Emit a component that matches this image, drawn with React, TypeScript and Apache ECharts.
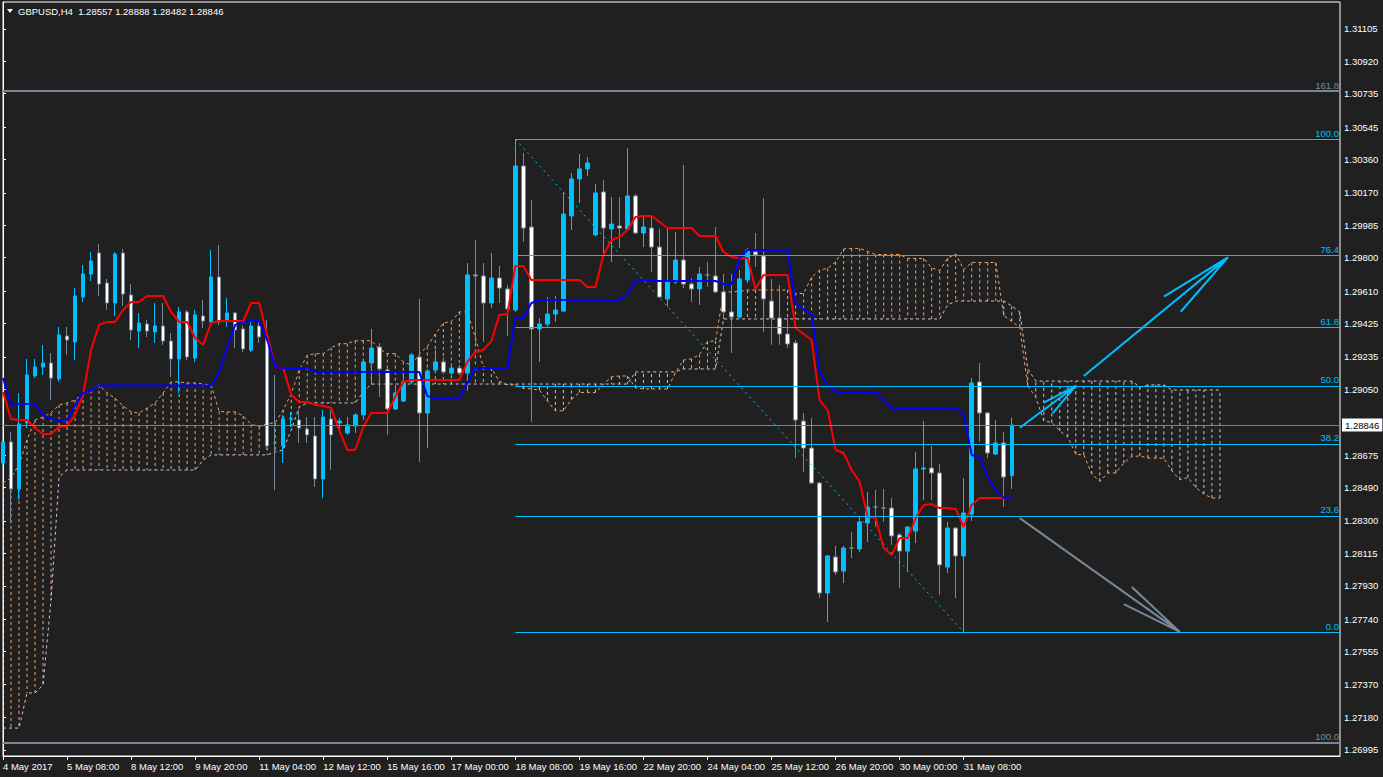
import React, { useEffect, useRef } from "react";
import * as echarts from "echarts";

const BG = "#202020";
const BLUE = "#00BFFF";
const GREY = "#778899";
const SANDY = "#F4A460";
const THISTLE = "#D8BFD8";
const FONT = '"Liberation Sans", Arial, sans-serif';

const titleText = "GBPUSD,H4  1.28557 1.28888 1.28482 1.28846";
const timeLabels = ["4 May 2017", "5 May 08:00", "8 May 12:00", "9 May 20:00", "11 May 04:00", "12 May 12:00", "15 May 16:00", "17 May 00:00", "18 May 08:00", "19 May 16:00", "22 May 20:00", "24 May 04:00", "25 May 12:00", "26 May 20:00", "30 May 00:00", "31 May 08:00"];
const priceTicks = [1.26995, 1.2718, 1.2737, 1.27555, 1.2774, 1.2793, 1.28115, 1.283, 1.2849, 1.28675, 1.2905, 1.29235, 1.29425, 1.2961, 1.298, 1.29985, 1.3017, 1.3036, 1.30545, 1.30735, 1.3092, 1.31105];
const SLOTS = 168;
const Y_MIN = 1.269598;
const Y_MAX = 1.312576;

const opens = [1.28630,1.28750,1.28482,1.28858,1.29126,1.29177,1.29200,1.29109,1.29354,1.29320,
 1.29576,1.29707,1.29827,1.29656,1.29542,1.29827,1.29588,1.29382,1.29422,1.29377,
 1.29411,1.29325,1.29223,1.29491,1.29228,1.29468,1.29434,1.29690,1.29445,1.29485,
 1.29394,1.29274,1.29411,1.29348,1.28744,1.28727,1.28881,1.28875,1.28824,1.28784,
 1.28539,1.28881,1.28858,1.28801,1.28841,1.28904,1.29200,1.29291,1.29160,1.28938,
 1.28983,1.29092,1.29234,1.28915,1.29160,1.29206,1.29143,1.29171,1.29143,1.29702,
 1.29696,1.29542,1.29684,1.29622,1.29502,1.30323,1.29975,1.29394,1.29422,1.29479,
 1.29496,1.30038,1.30249,1.30306,1.29930,1.30175,1.29964,1.29981,1.29964,1.30152,
 1.29941,1.29969,1.29861,1.29565,1.29662,1.29787,1.29650,1.29622,1.29702,1.29696,
 1.29605,1.29491,1.29462,1.29673,1.29833,1.29810,1.29553,1.29456,1.29365,1.29314,
 1.28869,1.28715,1.28516,1.27889,1.28094,1.28014,1.28145,1.28140,1.28288,1.28379,
 1.28373,1.28373,1.28220,1.28128,1.28242,1.28596,1.28601,1.28573,1.28037,1.28259,
 1.28100,1.28339,1.29092,1.28915,1.28681,1.28744,1.28557];
const highs = [1.28755,1.28807,1.29029,1.29223,1.29223,1.29303,1.29257,1.29405,1.29405,1.29627,
 1.29759,1.29833,1.29878,1.29679,1.29833,1.29850,1.29650,1.29485,1.29445,1.29542,
 1.29542,1.29371,1.29519,1.29502,1.29502,1.29559,1.29844,1.29873,1.29570,1.29491,
 1.29411,1.29434,1.29434,1.29445,1.29132,1.28904,1.28921,1.28932,1.28892,1.28892,
 1.28932,1.28932,1.28886,1.28892,1.28915,1.29217,1.29394,1.29314,1.29171,1.29075,
 1.29160,1.29257,1.29565,1.29166,1.29274,1.29234,1.29189,1.29189,1.29770,1.29901,
 1.29770,1.29827,1.29753,1.29645,1.30475,1.30397,1.30129,1.29456,1.29576,1.29582,
 1.30175,1.30283,1.30391,1.30374,1.30220,1.30243,1.30146,1.30146,1.30425,1.30163,
 1.30032,1.30032,1.29964,1.29975,1.29947,1.30329,1.29684,1.29747,1.29776,1.29975,
 1.29707,1.29707,1.29730,1.29855,1.29941,1.30140,1.29679,1.29645,1.29456,1.29331,
 1.28915,1.28886,1.28522,1.28106,1.28157,1.28157,1.28237,1.28322,1.28465,1.28476,
 1.28482,1.28430,1.28231,1.28271,1.28693,1.28869,1.28727,1.28624,1.28294,1.28265,
 1.28544,1.29114,1.29200,1.28921,1.28875,1.28807,1.28888];
const lows = [1.28619,1.28288,1.28419,1.28829,1.29114,1.29132,1.28989,1.29092,1.29246,1.29217,
 1.29548,1.29667,1.29582,1.29502,1.29468,1.29525,1.29331,1.29285,1.29348,1.29314,
 1.29303,1.29120,1.29029,1.29217,1.29206,1.29399,1.29417,1.29417,1.29405,1.29285,
 1.29263,1.29263,1.29314,1.28704,1.28476,1.28630,1.28835,1.28744,1.28744,1.28493,
 1.28430,1.28590,1.28818,1.28790,1.28801,1.28875,1.29075,1.29006,1.28790,1.28932,
 1.28978,1.29086,1.28636,1.28715,1.29149,1.29137,1.29132,1.29132,1.29040,1.29314,
 1.29320,1.29513,1.29542,1.29354,1.29491,1.29890,1.28864,1.29206,1.29399,1.29434,
 1.29491,1.29958,1.30112,1.30266,1.29924,1.29827,1.29776,1.29855,1.29958,1.29935,
 1.29861,1.29719,1.29570,1.29519,1.29650,1.29627,1.29548,1.29531,1.29633,1.29599,
 1.29462,1.29257,1.29456,1.29656,1.29747,1.29377,1.29303,1.29303,1.29285,1.28658,
 1.28579,1.28510,1.27860,1.27724,1.27992,1.27946,1.28088,1.28123,1.28180,1.28265,
 1.28294,1.28163,1.27917,1.28009,1.28174,1.28419,1.28419,1.27878,1.28003,1.27860,
 1.27665,1.28299,1.28750,1.28658,1.28676,1.28379,1.28482];
const closes = [1.28750,1.28482,1.28852,1.29132,1.29177,1.29200,1.29114,1.29360,1.29331,1.29582,
 1.29707,1.29781,1.29650,1.29542,1.29821,1.29593,1.29388,1.29428,1.29382,1.29411,
 1.29325,1.29223,1.29491,1.29234,1.29474,1.29439,1.29690,1.29434,1.29485,1.29388,
 1.29280,1.29411,1.29348,1.28727,1.28744,1.28881,1.28886,1.28829,1.28790,1.28539,
 1.28892,1.28790,1.28869,1.28847,1.28904,1.29206,1.29285,1.29166,1.28938,1.29029,
 1.29092,1.29246,1.28915,1.29154,1.29206,1.29149,1.29171,1.29143,1.29702,1.29696,
 1.29542,1.29684,1.29627,1.29508,1.30323,1.29969,1.29394,1.29422,1.29479,1.29502,
 1.30049,1.30249,1.30306,1.30340,1.30169,1.29969,1.29992,1.29969,1.30152,1.29941,
 1.29975,1.29861,1.29576,1.29662,1.29787,1.29650,1.29622,1.29707,1.29702,1.29605,
 1.29491,1.29462,1.29679,1.29844,1.29816,1.29565,1.29456,1.29365,1.29308,1.28875,
 1.28715,1.28516,1.27889,1.28100,1.28009,1.28145,1.28145,1.28294,1.28379,1.28379,
 1.28373,1.28214,1.28128,1.28265,1.28596,1.28601,1.28573,1.28049,1.28259,1.28100,
 1.28345,1.29086,1.28915,1.28687,1.28744,1.28550,1.28846];

const tenkan = [1.29035,1.28881,1.28875,1.28875,1.28829,1.28795,1.28795,1.28835,1.28841,1.28904,
 1.29018,1.29274,1.29417,1.29434,1.29434,1.29502,1.29548,1.29548,1.29582,1.29582,
 1.29582,1.29491,1.29434,1.29434,1.29343,1.29303,1.29428,1.29439,1.29439,1.29439,
 1.29439,1.29542,1.29542,1.29360,1.29177,1.29171,1.29018,1.28978,1.28978,1.28961,
 1.28955,1.28943,1.28818,1.28704,1.28704,1.28835,1.28915,1.28915,1.28915,1.29006,
 1.29092,1.29103,1.29103,1.29103,1.29103,1.29103,1.29103,1.29103,1.29206,1.29263,
 1.29274,1.29325,1.29474,1.29479,1.29753,1.29753,1.29673,1.29673,1.29673,1.29673,
 1.29673,1.29673,1.29673,1.29633,1.29633,1.29816,1.29901,1.29918,1.29958,1.30032,
 1.30038,1.30038,1.30004,1.29969,1.29969,1.29969,1.29969,1.29924,1.29924,1.29924,
 1.29833,1.29804,1.29798,1.29798,1.29622,1.29702,1.29702,1.29702,1.29702,1.29399,
 1.29365,1.29331,1.28989,1.28932,1.28704,1.28687,1.28590,1.28522,1.28322,1.28316,
 1.28145,1.28106,1.28202,1.28202,1.28316,1.28391,1.28396,1.28373,1.28373,1.28368,
 1.28265,1.28391,1.28430,1.28430,1.28430,1.28430,1.28430];
const kijun = [1.29114,1.28966,1.28966,1.28966,1.28966,1.28904,1.28881,1.28875,1.28875,1.28961,
 1.29029,1.29043,1.29071,1.29071,1.29071,1.29071,1.29071,1.29071,1.29071,1.29071,
 1.29071,1.29071,1.29071,1.29071,1.29071,1.29071,1.29071,1.29149,1.29291,1.29417,
 1.29434,1.29439,1.29439,1.29331,1.29177,1.29171,1.29171,1.29171,1.29171,1.29149,
 1.29149,1.29149,1.29149,1.29149,1.29149,1.29149,1.29149,1.29149,1.29149,1.29149,
 1.29149,1.29149,1.29149,1.29012,1.29000,1.29000,1.29000,1.29000,1.29086,1.29171,
 1.29171,1.29171,1.29171,1.29171,1.29456,1.29456,1.29542,1.29559,1.29559,1.29559,
 1.29559,1.29559,1.29559,1.29559,1.29559,1.29559,1.29559,1.29559,1.29593,1.29667,
 1.29667,1.29667,1.29667,1.29667,1.29667,1.29667,1.29667,1.29667,1.29667,1.29667,
 1.29650,1.29650,1.29798,1.29844,1.29844,1.29844,1.29844,1.29844,1.29844,1.29542,
 1.29508,1.29474,1.29149,1.29075,1.29035,1.29035,1.29035,1.29035,1.29035,1.29035,
 1.28989,1.28943,1.28943,1.28943,1.28943,1.28943,1.28943,1.28943,1.28943,1.28943,
 1.28904,1.28676,1.28664,1.28550,1.28476,1.28430,1.28430];

const spanA = [1.28516,1.28545,1.28619,1.28761,1.28875,1.28892,1.28915,1.28961,1.28972,1.28989,
 1.29023,1.29043,1.29075,1.29029,1.29000,1.28955,1.28921,1.28915,1.28943,1.28972,
 1.29029,1.29092,1.29092,1.29086,1.29086,1.29080,1.29075,1.28924,1.28921,1.28921,
 1.28898,1.28850,1.28838,1.28855,1.28858,1.28933,1.29024,1.29159,1.29244,1.29253,
 1.29253,1.29287,1.29310,1.29310,1.29327,1.29327,1.29327,1.29281,1.29253,1.29253,
 1.29207,1.29187,1.29250,1.29294,1.29365,1.29428,1.29437,1.29491,1.29491,1.29346,
 1.29177,1.29171,1.29095,1.29075,1.29075,1.29055,1.29052,1.29046,1.28984,1.28927,
 1.28927,1.28992,1.29032,1.29032,1.29032,1.29078,1.29121,1.29126,1.29126,1.29058,
 1.29052,1.29052,1.29052,1.29052,1.29146,1.29217,1.29223,1.29248,1.29323,1.29325,
 1.29605,1.29605,1.29608,1.29616,1.29616,1.29616,1.29616,1.29616,1.29616,1.29596,
 1.29596,1.29688,1.29730,1.29739,1.29776,1.29850,1.29853,1.29853,1.29836,1.29818,
 1.29818,1.29818,1.29818,1.29796,1.29796,1.29796,1.29742,1.29727,1.29798,1.29821,
 1.29733,1.29773,1.29773,1.29773,1.29773,1.29471,1.29437,1.29403,1.29069,1.29004,
 1.28870,1.28861,1.28813,1.28779,1.28679,1.28676,1.28567,1.28525,1.28573,1.28573,
 1.28630,1.28667,1.28670,1.28658,1.28658,1.28656,1.28585,1.28534,1.28547,1.28490,
 1.28453,1.28430,1.28430];
const spanB = [1.27119,1.27119,1.27119,1.27319,1.27319,1.27365,1.27849,1.28550,1.28590,1.28590,
 1.28590,1.28590,1.28590,1.28590,1.28590,1.28590,1.28590,1.28590,1.28590,1.28590,
 1.28590,1.28590,1.28590,1.28590,1.28590,1.28647,1.28676,1.28676,1.28676,1.28676,
 1.28676,1.28676,1.28676,1.28676,1.28693,1.28704,1.28818,1.28949,1.28972,1.28972,
 1.28972,1.28972,1.28972,1.28972,1.28972,1.29035,1.29080,1.29080,1.29080,1.29080,
 1.29080,1.29080,1.29080,1.29080,1.29080,1.29080,1.29080,1.29080,1.29080,1.29080,
 1.29080,1.29080,1.29080,1.29080,1.29080,1.29080,1.29080,1.29080,1.29080,1.29080,
 1.29080,1.29080,1.29080,1.29080,1.29080,1.29080,1.29080,1.29080,1.29080,1.29149,
 1.29149,1.29149,1.29149,1.29149,1.29149,1.29166,1.29166,1.29166,1.29166,1.29166,
 1.29451,1.29451,1.29451,1.29451,1.29451,1.29451,1.29451,1.29451,1.29451,1.29451,
 1.29451,1.29451,1.29451,1.29451,1.29451,1.29451,1.29451,1.29451,1.29451,1.29451,
 1.29451,1.29451,1.29451,1.29451,1.29451,1.29451,1.29451,1.29451,1.29531,1.29553,
 1.29553,1.29553,1.29553,1.29553,1.29553,1.29553,1.29525,1.29491,1.29166,1.29097,
 1.29097,1.29097,1.29097,1.29097,1.29097,1.29097,1.29097,1.29097,1.29097,1.29097,
 1.29097,1.29097,1.29063,1.29075,1.29075,1.29075,1.29046,1.29046,1.29046,1.29046,
 1.29046,1.29046,1.29046];

// Fibonacci objects
const fibHighBar = 64;
const fibLowBar = 120;
const fibRatios = [0, 23.6, 38.2, 50, 61.8, 76.4, 100];
const greyFibLevels = [
  { label: "161.8", price: 1.3075 },
  { label: "100.0", price: 1.27038 },
];
const currentPrice = 1.28846;

// Drawn arrows: [bar, price] points (shaft, then the two head strokes)
const arrowUpShort = [[127, 1.28831], [134, 1.29069], [130, 1.28974], [134, 1.29069], [131.1, 1.28913]];
const arrowUpLong = [[135, 1.29126], [153, 1.29802], [145, 1.29578], [153, 1.29802], [147.1, 1.29492]];
const arrowDown = [[127, 1.28316], [147, 1.27667], [141, 1.27923], [147, 1.27667], [140, 1.27826]];

function buildOption() {
  const slots = Array.from({ length: SLOTS }, (_, i) => String(i));
  const showTick = (index: number) => index % 8 === 0 && index / 8 < timeLabels.length;
  const fibHigh = highs[fibHighBar];
  const fibLow = lows[fibLowBar];

  const fibLines: any[] = fibRatios.map((r) => {
    const price = fibLow + ((fibHigh - fibLow) * r) / 100;
    return [
      {
        coord: [fibHighBar, price],
        lineStyle: { color: BLUE, width: 1, type: "solid" },
        label: { show: true, position: "insideEndTop", formatter: r.toFixed(1), color: BLUE, fontSize: 9.5, fontFamily: FONT, distance: 1 },
      },
      { coord: [SLOTS - 1, price] },
    ];
  });
  const greyLines: any[] = greyFibLevels.map((g) => ({
    yAxis: g.price,
    lineStyle: { color: GREY, width: 2, type: "solid" },
    label: { show: true, position: "insideEndTop", formatter: g.label, color: GREY, fontSize: 9.5, fontFamily: FONT, distance: 1 },
  }));
  const priceLine = {
    yAxis: currentPrice,
    lineStyle: { color: "#808080", width: 1, type: "solid" },
    label: {
      show: true, position: "end", formatter: currentPrice.toFixed(5), color: "#000", backgroundColor: "#ffffff",
      padding: [2, 3, 1, 3], fontSize: 9.5, fontFamily: FONT, distance: 2,
    },
  };

  const arrowSeries = (data: number[][], color: string) => ({
    type: "line", xAxisIndex: 1, yAxisIndex: 0, data, symbol: "none", silent: true,
    lineStyle: { color, width: 2 }, z: 6,
  });

  return {
    animation: false,
    backgroundColor: BG,
    textStyle: { fontFamily: FONT },
    grid: {
      left: 3, top: 2, width: 1337, height: 754, show: true, borderColor: "#ffffff", borderWidth: 1,
      backgroundColor: "transparent", containLabel: false, outerBoundsMode: "none",
    },
    xAxis: [
      {
        type: "category", data: slots, boundaryGap: false, position: "bottom",
        axisLine: { show: true, lineStyle: { color: "#ffffff" } },
        axisTick: { show: true, interval: showTick, length: 4, lineStyle: { color: "#ffffff" } },
        axisLabel: {
          show: true, interval: showTick, align: "left", margin: 5, color: "#ffffff", fontSize: 9.5, fontFamily: FONT,
          formatter: (_v: string, idx: number) => timeLabels[idx / 8] ?? "", hideOverlap: false,
        },
        splitLine: { show: false },
      },
      { type: "value", min: 0, max: SLOTS - 1, show: false },
    ],
    yAxis: {
      type: "value", position: "right", min: Y_MIN, max: Y_MAX, scale: true,
      splitLine: { show: false },
      axisLine: { show: true, lineStyle: { color: "#ffffff" } },
      axisTick: { show: true, customValues: priceTicks, length: 3, lineStyle: { color: "#ffffff" } },
      axisLabel: {
        show: true, customValues: priceTicks, formatter: (v: number) => v.toFixed(5),
        color: "#ffffff", fontSize: 9.5, fontFamily: FONT, margin: 4,
      },
    },
    graphic: [
      { type: "polygon", shape: { points: [[7, 9], [13, 9], [10, 13]] }, style: { fill: "#ffffff" }, silent: true },
      { type: "text", style: { x: 18, y: 11, text: titleText, fill: "#ffffff", font: `9.5px ${FONT}`, verticalAlign: "middle" }, silent: true },
    ],
    series: [
      {
        type: "custom", xAxisIndex: 1, yAxisIndex: 0, silent: true, clip: true, z: 1,
        data: spanA.map((a, j) => [j, a, spanB[j]]),
        renderItem: (_params: any, api: any) => {
          const j = api.value(0);
          const a = api.value(1);
          const b = api.value(2);
          const p1 = api.coord([j, a]);
          const p2 = api.coord([j, b]);
          return {
            type: "line",
            shape: { x1: p1[0], y1: p1[1], x2: p2[0], y2: p2[1] },
            style: { stroke: a >= b ? SANDY : THISTLE, lineWidth: 1, lineDash: [3, 3] },
          };
        },
      },
      { type: "line", data: spanA, symbol: "none", silent: true, z: 2, lineStyle: { color: SANDY, width: 1, type: [3, 3] } },
      { type: "line", data: spanB, symbol: "none", silent: true, z: 2, lineStyle: { color: THISTLE, width: 1, type: [3, 3] } },
      {
        type: "candlestick", silent: true, z: 3, barWidth: 4,
        data: opens.map((o, i) => [o, closes[i], lows[i], highs[i]]),
        itemStyle: { color: BLUE, color0: "#ffffff", borderColor: BLUE, borderColor0: GREY, borderColorDoji: GREY, borderWidth: 1 },
      },
      { type: "line", data: tenkan, symbol: "none", silent: true, z: 4, lineStyle: { color: "#ff0000", width: 2 } },
      { type: "line", data: kijun, symbol: "none", silent: true, z: 4, lineStyle: { color: "#0000ff", width: 2 } },
      {
        type: "line", xAxisIndex: 1, yAxisIndex: 0, symbol: "none", silent: true, z: 5,
        data: [[fibHighBar, fibHigh], [fibLowBar, fibLow]],
        lineStyle: { color: BLUE, width: 1, type: [2, 4] },
        markLine: { silent: true, precision: 6, symbol: ["none", "none"], animation: false, data: [...fibLines, ...greyLines, priceLine] },
      },
      arrowSeries(arrowUpShort, BLUE),
      arrowSeries(arrowUpLong, BLUE),
      arrowSeries(arrowDown, GREY),
    ],
  };
}

export default function App() {
  const ref = useRef<HTMLDivElement | null>(null);
  useEffect(() => {
    if (!ref.current) return;
    const chart = echarts.init(ref.current, null, { renderer: "svg" });
    chart.setOption(buildOption() as any);
    return () => chart.dispose();
  }, []);
  return <div ref={ref} style={{ position: "fixed", left: 0, top: 0, width: 1383, height: 777, background: BG }} />;
}
